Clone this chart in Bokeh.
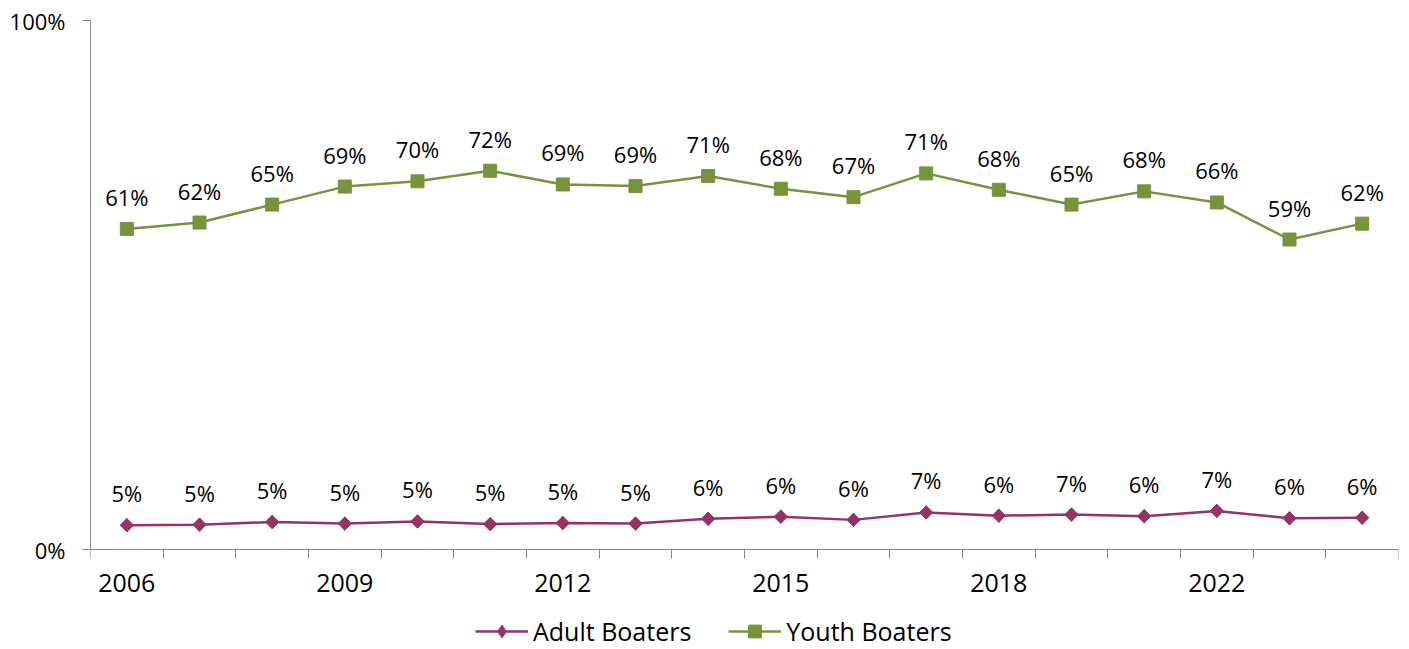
import numpy as np
from bokeh.plotting import figure
from bokeh.core.properties import value
from bokeh.models import (ColumnDataSource, FixedTicker, LabelSet, Legend,
                          LegendItem, Range1d)
from bokeh.embed import file_html
from bokeh.resources import INLINE

# ---- data ----
years = ["2006", "2007", "2008", "2009", "2010", "2011", "2012", "2013", "2014",
         "2015", "2016", "2017", "2018", "2019", "2021", "2022", "2023", "2024"]
adult = [4.6, 4.7, 5.2, 4.9, 5.3, 4.8, 5.0, 4.9, 5.8,
         6.2, 5.6, 7.0, 6.4, 6.6, 6.3, 7.3, 5.9, 6.0]
youth = [60.6, 61.8, 65.2, 68.6, 69.6, 71.6, 69.0, 68.7, 70.6,
         68.2, 66.6, 71.1, 68.0, 65.2, 67.7, 65.6, 58.6, 61.6]
x_label_years = ["2006", "2009", "2012", "2015", "2018", "2022"]
y_tick_values = [0, 100]
y_tick_labels = ["0%", "100%"]

ADULT_C = "#963366"
YOUTH_C = "#77933C"
AXIS_C = "#868686"
FONT = "Open Sans"

# layout (pixels)
W, H = 1409, 649
TOP, ZERO_Y = 20, 549          # pixel rows of 100% and 0%
LEFT, RIGHT = 90, 1398
y_low = -100.0 * (H - ZERO_Y) / (ZERO_Y - TOP)   # extend frame below 0 for legend room

idx = list(range(len(years)))
src_a = ColumnDataSource(dict(x=idx, y=adult, lab=[f"{round(v)}%" for v in adult]))
src_y = ColumnDataSource(dict(x=idx, y=youth, lab=[f"{round(v)}%" for v in youth]))

p = figure(width=W, height=H, output_backend="svg", toolbar_location=None,
           x_range=Range1d(-0.5, len(years) - 0.5), y_range=Range1d(y_low, 100),
           min_border_left=LEFT, min_border_right=W - RIGHT, min_border_top=TOP,
           min_border_bottom=0)
p.outline_line_color = None
p.grid.visible = False
p.background_fill_color = "white"
p.border_fill_color = "white"

# x axis, pinned at y = 0
xa = p.xaxis[0]
xa.fixed_location = 0
major = [years.index(y) for y in x_label_years]
xa.ticker = FixedTicker(ticks=major, minor_ticks=[i - 0.5 for i in range(len(years) + 1)])
xa.major_label_overrides = {i: years[i] for i in major}
xa.major_tick_out = 0
xa.major_tick_in = 0
xa.minor_tick_out = 9
xa.minor_tick_in = 0
xa.axis_line_color = AXIS_C
xa.minor_tick_line_color = AXIS_C
xa.major_label_text_font = FONT
xa.major_label_text_font_size = "25px"
xa.major_label_text_color = "black"
xa.major_label_standoff = 15

# y axis
ya = p.yaxis[0]
ya.bounds = (0, 100)
ya.ticker = FixedTicker(ticks=y_tick_values, minor_ticks=[])
ya.major_label_overrides = dict(zip(y_tick_values, y_tick_labels))
ya.major_tick_out = 8
ya.major_tick_in = 0
ya.minor_tick_out = 0
ya.minor_tick_in = 0
ya.axis_line_color = AXIS_C
ya.major_tick_line_color = AXIS_C
ya.major_label_text_font = FONT
ya.major_label_text_font_size = "22px"
ya.major_label_text_color = "black"
ya.major_label_standoff = 17

# series
la = p.line("x", "y", source=src_a, line_color=ADULT_C, line_width=2.5)
# diamond used for the legend key (hidden under the rotated square in the plot)
da = p.scatter("x", "y", source=src_a, marker="diamond", size=13,
               fill_color=ADULT_C, line_color=ADULT_C)
sa = p.scatter("x", "y", source=src_a, marker="square", angle=np.pi / 4, size=9.5,
               fill_color=ADULT_C, line_color=ADULT_C)
ly = p.line("x", "y", source=src_y, line_color=YOUTH_C, line_width=2.5)
sy = p.scatter("x", "y", source=src_y, marker="square", size=13,
               fill_color=YOUTH_C, line_color=YOUTH_C)

for src in (src_a, src_y):
    p.add_layout(LabelSet(x="x", y="y", text="lab", source=src, y_offset=32,
                          text_align="center", text_baseline="middle",
                          text_font=value(FONT), text_font_size=value("22px"),
                          text_color="black"))

legend = Legend(items=[LegendItem(label="Adult Boaters", renderers=[la, da]),
                       LegendItem(label="Youth Boaters", renderers=[ly, sy])],
                location=(475 - LEFT, 1), orientation="horizontal",
                padding=0, margin=0, spacing=37, label_standoff=5,
                glyph_width=53, glyph_height=32, label_height=26,
                label_text_font=FONT, label_text_font_size="25px",
                label_text_color="black", label_text_baseline="middle",
                border_line_color=None, background_fill_alpha=0)
p.add_layout(legend)

open("out.html", "w").write(file_html(p, INLINE))
